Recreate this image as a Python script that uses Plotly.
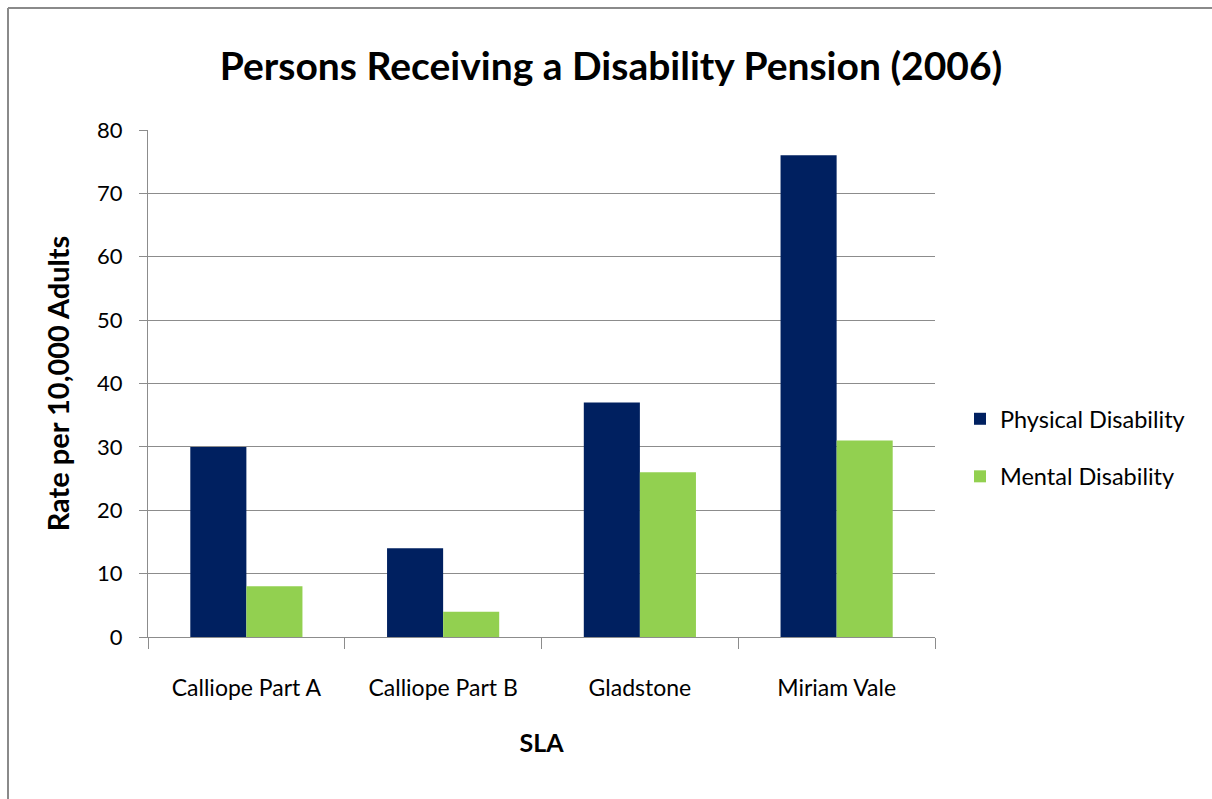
import plotly.graph_objects as go

# Rate per 10,000 adults receiving a disability pension, by SLA (2006)
categories = ["Calliope Part A", "Calliope Part B", "Gladstone", "Miriam Vale"]
physical = [30, 14, 37, 76]
mental = [8, 4, 26, 31]

W, H = 1212, 799
ML, MR, MT, MB = 148, 277, 130, 162
PW, PH = W - ML - MR, H - MT - MB

FONT = "Lato"
GRID = "#8c8c8c"

fig = go.Figure()
fig.add_trace(go.Bar(name="Physical Disability", x=categories, y=physical,
                     marker=dict(color="#002060", line=dict(width=0)),
                     legendgroup="p"))
fig.add_trace(go.Bar(name="Mental Disability", x=categories, y=mental,
                     marker=dict(color="#92D050", line=dict(width=0)),
                     legendgroup="m"))


def px_x(x):
    return (x - ML) / PW


def px_y(y):
    return (H - MB - y) / PH


# outer chart frame (top and left edges visible)
frame = dict(type="line", xref="paper", yref="paper",
             line=dict(color="#8a8a8a", width=2))
fig.add_shape(**frame, x0=px_x(8), y0=px_y(8), x1=px_x(W + 5), y1=px_y(8))
fig.add_shape(**frame, x0=px_x(8), y0=px_y(8), x1=px_x(8), y1=px_y(H + 5))

fig.update_layout(
    width=W, height=H,
    margin=dict(l=ML, r=MR, t=MT, b=MB, autoexpand=False),
    paper_bgcolor="white", plot_bgcolor="white",
    barmode="group", bargap=0.43, bargroupgap=0,
    font=dict(family=FONT, color="#000000", size=22),
    title=dict(text="<b>Persons Receiving a Disability Pension (2006)</b>",
               x=611 / W, xanchor="center", xref="container",
               y=1 - 66 / H, yanchor="middle", yref="container",
               font=dict(family=FONT, size=39, color="#000000")),
    showlegend=True,
    legend=dict(x=px_x(960), xanchor="left", y=px_y(448), yanchor="middle",
                traceorder="grouped", tracegroupgap=24,
                font=dict(family=FONT, size=23.5, color="#000000"),
                bgcolor="rgba(0,0,0,0)", itemsizing="constant"),
    xaxis=dict(
        type="category", showline=True, linecolor=GRID, linewidth=1,
        ticks="outside", tickson="boundaries", ticklen=11, tickcolor=GRID,
        ticklabelstandoff=30,
        tickfont=dict(family=FONT, size=23, color="#000000"),
        showgrid=False, zeroline=False,
        title=dict(text="<b>SLA</b>", standoff=34,
                   font=dict(family=FONT, size=25, color="#000000")),
    ),
    yaxis=dict(
        range=[0, 80], dtick=10, tick0=0,
        showline=True, linecolor=GRID, linewidth=1,
        ticks="outside", ticklen=8, tickcolor=GRID,
        ticklabelstandoff=12,
        showgrid=True, gridcolor=GRID, gridwidth=1, zeroline=False,
        tickfont=dict(family=FONT, size=22, color="#000000"),
        title=dict(text="<b>Rate per 10,000 Adults</b>", standoff=18,
                   font=dict(family=FONT, size=29, color="#000000")),
    ),
)

fig.write_html("out.html")
